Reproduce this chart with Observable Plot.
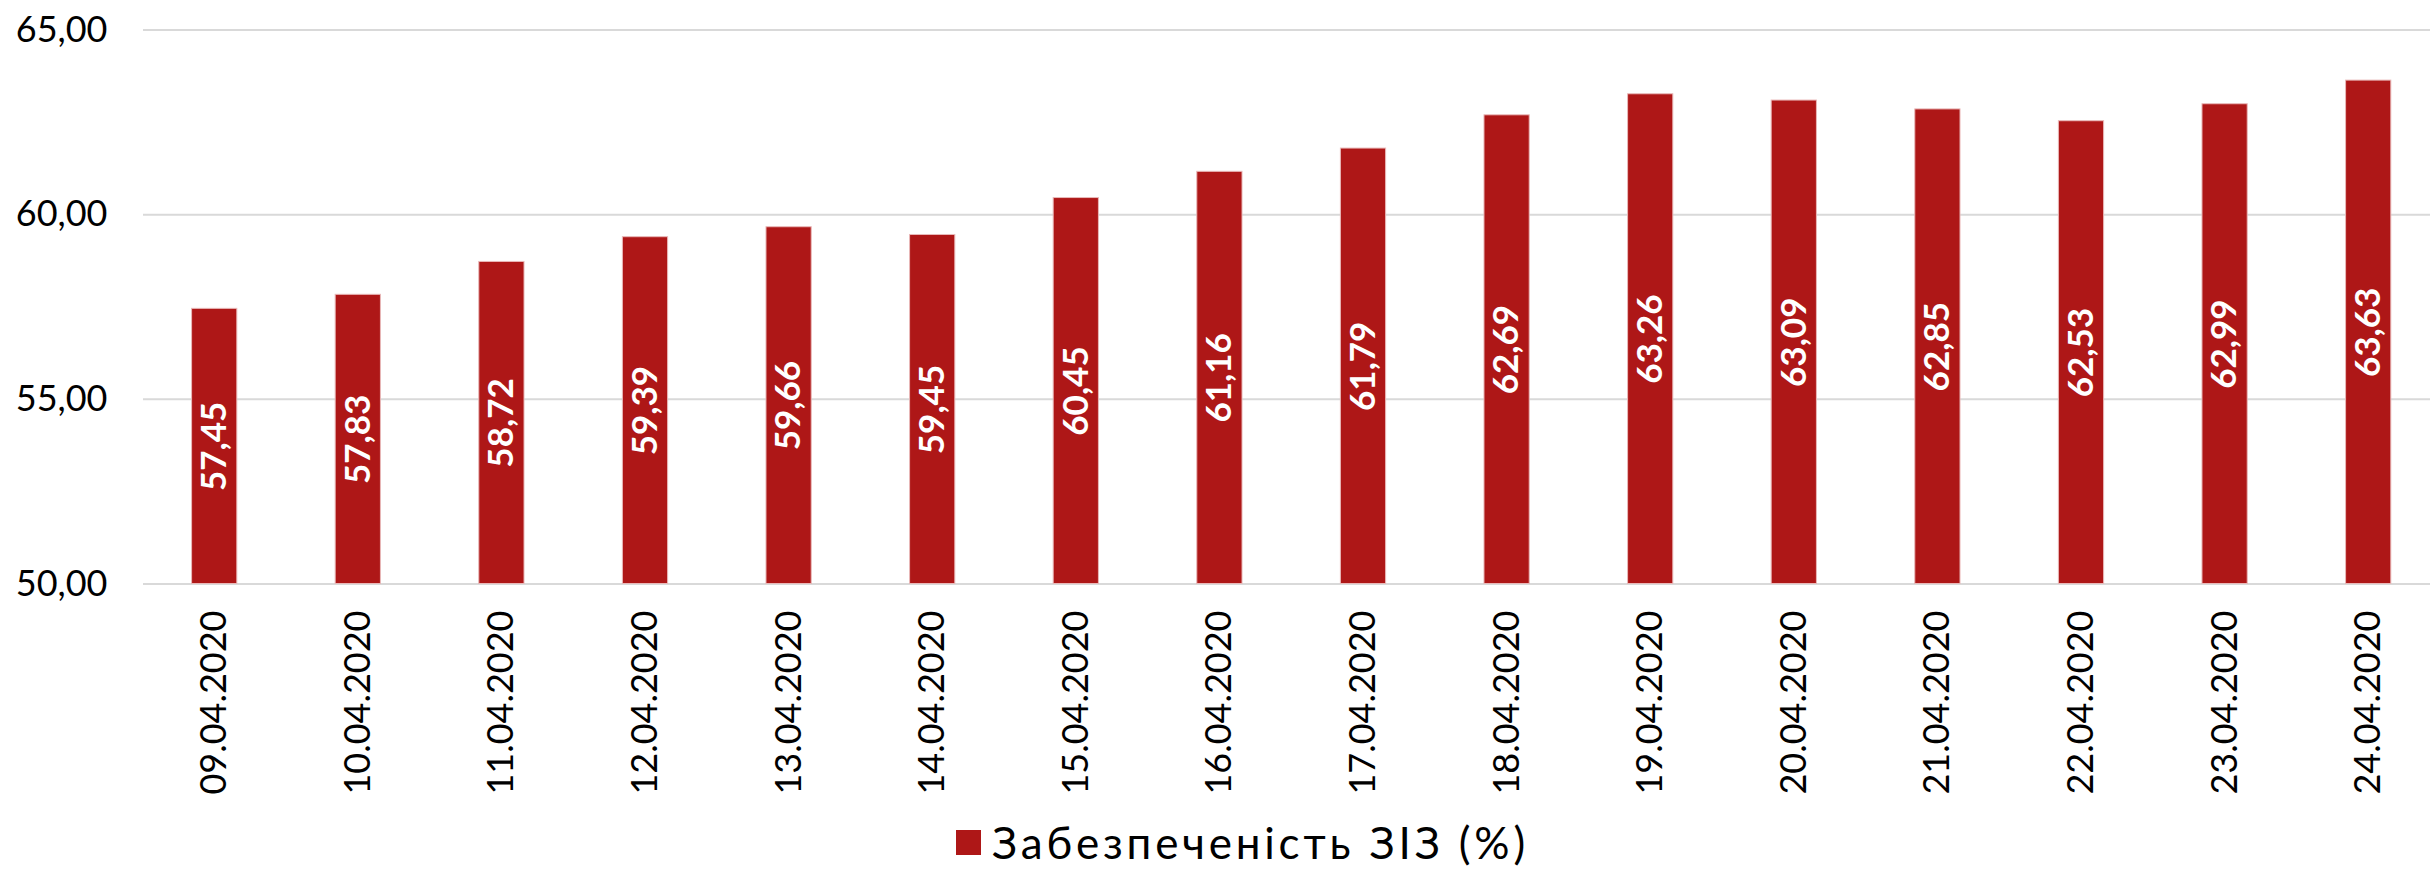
<!DOCTYPE html>
<html>
<head>
<meta charset="utf-8">
<script src="https://cdn.jsdelivr.net/npm/d3@7"></script>
<script src="https://cdn.jsdelivr.net/npm/@observablehq/plot@0.6"></script>
<style>
  html, body { margin: 0; padding: 0; background: #fff; }
  #chart svg { display: block; }
  #legend { display: flex; align-items: center; margin-left: 956px; height: 64px; font-family: Lato, sans-serif; font-size: 44px; letter-spacing: 3.8px; color: #000; }
  #legend .sw { width: 25px; height: 25px; background: #ae1717; margin-right: 11px; flex: none; }
</style>
</head>
<body>
<div id="chart"></div>
<div id="legend"><div class="sw"></div><span id="legend-text"></span></div>
<script>
const dates = ["09.04.2020","10.04.2020","11.04.2020","12.04.2020","13.04.2020","14.04.2020","15.04.2020","16.04.2020","17.04.2020","18.04.2020","19.04.2020","20.04.2020","21.04.2020","22.04.2020","23.04.2020","24.04.2020"];
const values = [57.45,57.83,58.72,59.39,59.66,59.45,60.45,61.16,61.79,62.69,63.26,63.09,62.85,62.53,62.99,63.63];
const yTicks = [50,55,60,65];
const seriesName = "Забезпеченість ЗІЗ (%)";
const barColor = "#ae1717";

const data = dates.map((d, i) => ({date: d, value: values[i]}));
const fmt = v => d3.format(".2f")(v).replace(".", ",");

const chart = Plot.plot({
  width: 2430,
  height: 810,
  marginTop: 29,
  marginBottom: 226,
  marginLeft: 143,
  marginRight: 0,
  style: {fontFamily: "Lato, sans-serif", color: "#000", background: "#fff"},
  x: {domain: dates, range: [142.4, 2440], paddingInner: 0.685, paddingOuter: 0.3425, align: 0.5, round: false},
  y: {domain: [50, 65], range: [583.5, 29.5]},
  marks: [
    Plot.gridY(yTicks, {stroke: "#d9d9d9", strokeOpacity: 1, strokeWidth: 2}),
    Plot.barY(data, {x: "date", y1: 50, y2: "value", fill: barColor, stroke: "#e9b9b9", strokeWidth: 1}),
    Plot.text(data, {x: "date", y: d => (50 + d.value) / 2, text: d => fmt(d.value), rotate: -90, fill: "white", fontWeight: "bold", fontSize: 35}),
    Plot.axisY(yTicks, {tickSize: 0, tickPadding: 36, tickFormat: fmt, fontSize: 36, fill: "#000", label: null}),
    Plot.axisX({tickSize: 0, tickRotate: -90, tickPadding: 26, fontSize: 36, fill: "#000", label: null})
  ]
});
document.getElementById("chart").appendChild(chart);
document.getElementById("legend-text").textContent = seriesName;
</script>
</body>
</html>
